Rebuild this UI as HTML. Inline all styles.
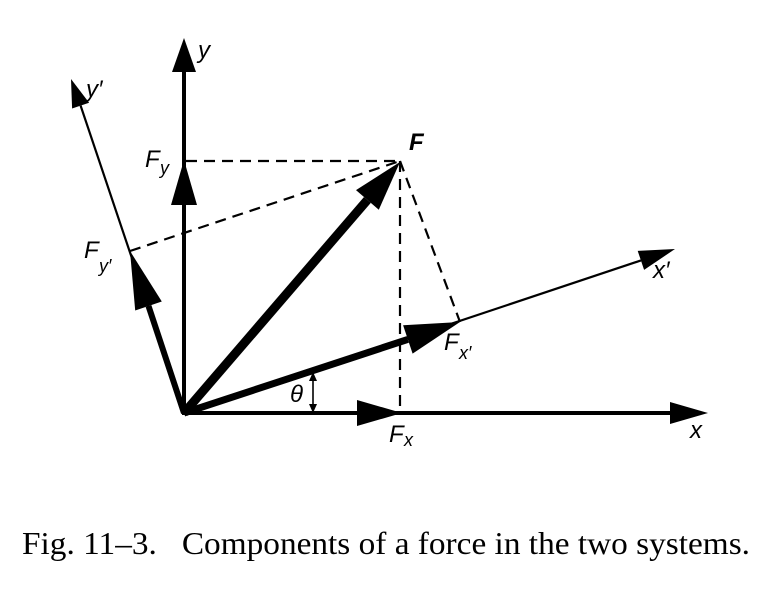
<!DOCTYPE html>
<html><head><meta charset="utf-8"><style>
html,body{margin:0;padding:0;background:#fff;}
svg{display:block;}
.l{font-family:"Liberation Sans",sans-serif;font-style:italic;font-size:24px;fill:#000;}
.s{font-family:"Liberation Sans",sans-serif;font-style:italic;font-size:18px;fill:#000;}
</style></head><body>
<svg width="782" height="590" viewBox="0 0 782 590" xmlns="http://www.w3.org/2000/svg">
<g stroke="#000" stroke-width="2.2" stroke-dasharray="11,7" fill="none">
<line x1="186" y1="161" x2="400" y2="161"/>
<line x1="130" y1="251" x2="400" y2="161"/>
<line x1="400" y1="161" x2="400" y2="413"/>
<line x1="400" y1="161" x2="460" y2="322"/>
</g>
<g stroke="#000" fill="none" stroke-linecap="butt">
<line x1="182" y1="413" x2="672" y2="413" stroke-width="4"/>
<line x1="184" y1="413" x2="184" y2="70" stroke-width="4"/>
<line x1="184" y1="413" x2="80.6" y2="105.6" stroke-width="2.2"/>
<line x1="184" y1="413" x2="641" y2="260.4" stroke-width="2.2"/>
<line x1="184" y1="413" x2="367.4" y2="199.9" stroke-width="9"/>
<line x1="184" y1="413" x2="148.5" y2="306" stroke-width="6"/>
<line x1="184" y1="413" x2="407.8" y2="339.4" stroke-width="7"/>
<line x1="313" y1="378" x2="313" y2="407" stroke-width="1.6"/>
</g>
<g fill="#000">
<polygon points="400,162 378.8,209.7 356,190.1"/>
<polygon points="184,160 171,205 197,205"/>
<polygon points="184,38 172,72 196,72"/>
<polygon points="708,413 670,402 670,424"/>
<polygon points="402,413 357,400 357,426"/>
<polygon points="71,79 89.1,102.7 72.1,108.5"/>
<polygon points="130,251 161.8,301.5 135.2,310.5"/>
<polygon points="675,249 644.1,269.9 637.7,250.9"/>
<polygon points="460,322 412.6,353.6 403.1,325.2"/>
<polygon points="313,372 309,381 317,381"/>
<polygon points="313,413 309,404 317,404"/>
</g>
<text class="l" x="198" y="58">y</text>
<text class="l" x="86" y="97">y′</text>
<text class="l" x="409" y="150" font-weight="bold">F</text>
<text class="l" x="145" y="167">F</text><text class="s" x="160" y="174">y</text>
<text class="l" x="84" y="258">F</text><text class="s" x="99" y="272">y′</text>
<text class="l" x="444" y="350">F</text><text class="s" x="459" y="359">x′</text>
<text class="l" x="653" y="278">x′</text>
<text class="l" x="389" y="442">F</text><text class="s" x="404" y="446">x</text>
<text class="l" x="690" y="438">x</text>
<text class="l" x="290" y="402" font-size="22">θ</text>
<text x="22" y="554" font-family="'Liberation Serif',serif" font-size="32" textLength="728" lengthAdjust="spacingAndGlyphs">Fig. 11–3.&#160;&#160; Components of a force in the two systems.</text>
</svg>
</body></html>
